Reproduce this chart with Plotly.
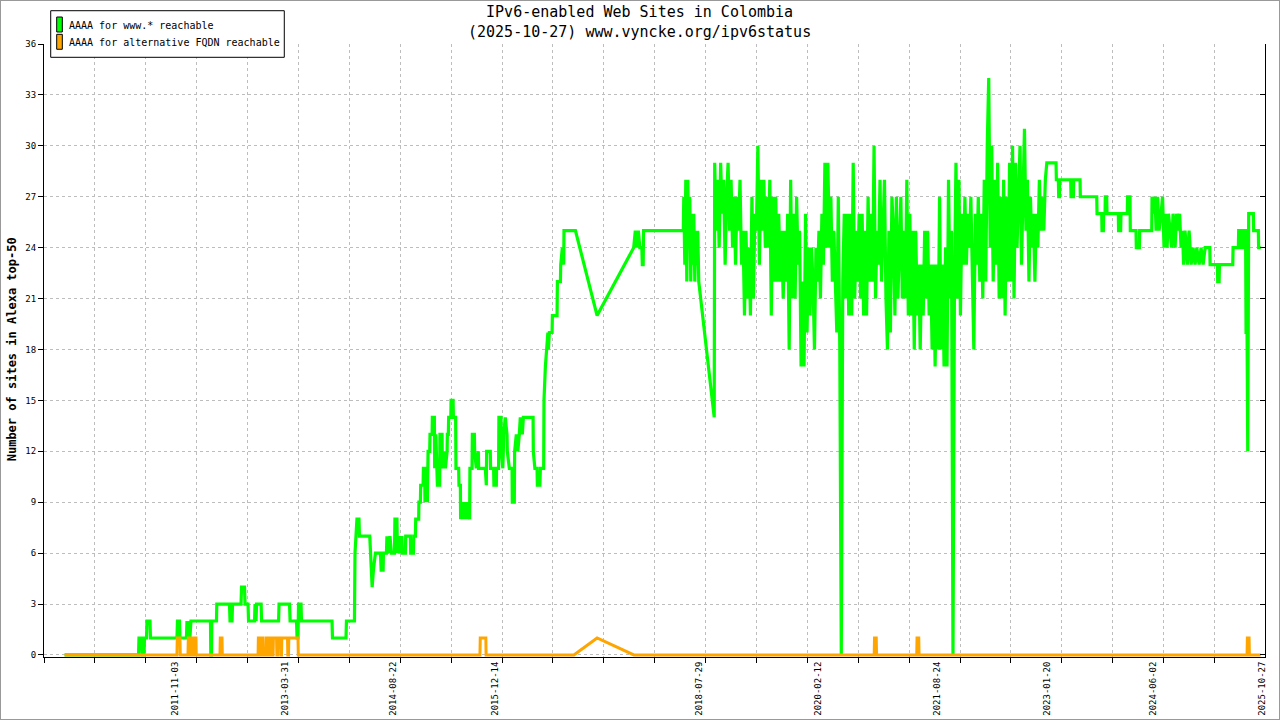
import datetime as dt
import pandas as pd
import plotly.graph_objects as go

# values; x as decimal years
green_early = [
    (2010.412, 0), (2011.364, 0), (2011.370, 1), (2011.403, 1), (2011.409, 0), (2011.435, 0),
    (2011.441, 1), (2011.467, 1), (2011.473, 2), (2011.512, 2), (2011.518, 1), (2011.859, 1),
    (2011.866, 2), (2011.891, 2), (2011.898, 1), (2011.981, 1), (2011.988, 2), (2012.001, 1),
    (2012.013, 2), (2012.026, 1), (2012.039, 2), (2012.290, 2), (2012.294, 0), (2012.303, 0),
    (2012.307, 2), (2012.367, 2), (2012.371, 3), (2012.534, 3), (2012.541, 2), (2012.567, 2),
    (2012.573, 3), (2012.682, 3), (2012.689, 4), (2012.727, 4), (2012.734, 3), (2012.772, 3),
    (2012.779, 2), (2012.856, 2), (2012.862, 3), (2012.875, 2), (2012.882, 3), (2012.940, 3),
    (2012.946, 2), (2013.165, 2), (2013.171, 3), (2013.306, 3), (2013.313, 2), (2013.396, 2),
    (2013.403, 1), (2013.415, 1), (2013.422, 3), (2013.454, 3), (2013.460, 2), (2013.853, 2),
    (2013.859, 1), (2014.033, 1), (2014.039, 2), (2014.142, 2), (2014.149, 6), (2014.161, 7),
    (2014.174, 8), (2014.200, 8), (2014.206, 7), (2014.339, 7), (2014.348, 6), (2014.370, 4),
    (2014.386, 5), (2014.412, 6), (2014.477, 6), (2014.486, 5), (2014.511, 5), (2014.515, 6),
    (2014.554, 6), (2014.560, 7), (2014.579, 6), (2014.599, 7), (2014.618, 6), (2014.657, 6),
    (2014.663, 8), (2014.689, 8), (2014.695, 6), (2014.715, 7), (2014.734, 6), (2014.753, 7),
    (2014.760, 6), (2014.798, 6), (2014.802, 7), (2014.862, 7), (2014.866, 6), (2014.901, 6),
    (2014.905, 7), (2014.927, 7), (2014.931, 8), (2014.969, 8), (2014.972, 9), (2014.991, 9),
    (2014.995, 10), (2015.026, 10), (2015.030, 11), (2015.046, 11), (2015.050, 9), (2015.068, 10),
    (2015.081, 9), (2015.090, 12), (2015.111, 12), (2015.115, 13), (2015.142, 13), (2015.145, 14),
    (2015.171, 14), (2015.175, 11), (2015.190, 13), (2015.206, 11), (2015.210, 10), (2015.239, 10),
    (2015.243, 13), (2015.270, 13), (2015.274, 11), (2015.300, 12), (2015.313, 11), (2015.335, 12),
    (2015.338, 13), (2015.351, 13), (2015.355, 14), (2015.383, 14), (2015.386, 15), (2015.412, 15),
    (2015.416, 14), (2015.445, 14), (2015.449, 11), (2015.484, 11), (2015.488, 10), (2015.506, 10),
    (2015.509, 8), (2015.531, 9), (2015.548, 8), (2015.570, 9), (2015.583, 8), (2015.596, 9),
    (2015.625, 8), (2015.629, 11), (2015.656, 11), (2015.660, 13), (2015.686, 13), (2015.690, 12),
    (2015.711, 11), (2015.737, 12), (2015.741, 11), (2015.827, 11), (2015.831, 10), (2015.840, 10),
    (2015.844, 12), (2015.891, 12), (2015.895, 11), (2015.934, 11), (2015.938, 10), (2015.969, 10),
    (2015.972, 11), (2015.998, 11), (2016.002, 14), (2016.029, 14), (2016.033, 12), (2016.052, 11),
    (2016.059, 12), (2016.063, 13), (2016.084, 14), (2016.106, 13), (2016.110, 12), (2016.136, 11),
    (2016.171, 11), (2016.174, 9), (2016.200, 9), (2016.204, 12), (2016.226, 13), (2016.245, 12),
    (2016.264, 13), (2016.277, 14), (2016.303, 13), (2016.316, 14), (2016.406, 14), (2016.441, 14),
    (2016.444, 12), (2016.464, 11), (2016.492, 11), (2016.496, 10), (2016.528, 10), (2016.535, 11),
    (2016.577, 11), (2016.581, 15), (2016.599, 17), (2016.612, 18), (2016.631, 19), (2016.637, 18),
    (2016.650, 19), (2016.685, 19), (2016.689, 20), (2016.749, 20), (2016.753, 22), (2016.792, 22),
    (2016.796, 23), (2016.817, 24), (2016.834, 23), (2016.838, 25), (2016.985, 25), (2017.264, 20),
    (2017.735, 24), (2017.756, 25), (2017.776, 24), (2017.795, 25), (2017.814, 24), (2017.840, 24),
    (2017.846, 23), (2017.857, 23), (2017.862, 25), (2018.374, 25), (2018.380, 27), (2018.393, 23),
    (2018.406, 28), (2018.419, 22), (2018.432, 28), (2018.445, 24), (2018.457, 27), (2018.470, 22),
    (2018.483, 26), (2018.496, 23), (2018.509, 26), (2018.522, 22), (2018.535, 25), (2018.547, 23),
    (2018.560, 25), (2018.573, 22), (2018.772, 14),
]

# weekly readings through the noisy 2018-2023 stretch
weekly_start = '2018-10-12'
green_weekly = [
    29, 25, 28, 24, 29, 26, 28, 23, 27, 29,
    25, 28, 24, 27, 23, 27, 25, 28, 23, 25,
    20, 25, 21, 24, 20, 27, 21, 26, 25, 30,
    23, 28, 25, 28, 24, 27, 24, 28, 20, 27,
    22, 27, 22, 26, 22, 25, 21, 25, 22, 26,
    18, 28, 21, 26, 21, 27, 23, 25, 17, 22,
    17, 26, 19, 24, 20, 24, 22, 18, 24, 22,
    25, 21, 26, 23, 29, 24, 29, 24, 27, 22,
    25, 21, 19, 27, 18, 0, 22, 26, 21, 26,
    20, 26, 20, 29, 21, 25, 22, 26, 21, 26,
    20, 25, 20, 27, 22, 26, 22, 30, 21, 25,
    23, 28, 22, 25, 28, 21, 18, 25, 19, 27,
    25, 20, 27, 21, 25, 27, 21, 25, 21, 28,
    20, 26, 20, 25, 18, 25, 20, 23, 18, 23,
    20, 25, 21, 25, 20, 23, 18, 23, 17, 23,
    18, 27, 18, 23, 17, 24, 17, 28, 21, 25,
    0, 22, 29, 21, 28, 20, 26, 23, 27, 23,
    26, 24, 27, 22, 18, 26, 23, 27, 22, 26,
    21, 28, 22, 30, 34, 24, 30, 22, 28, 23,
    29, 21, 27, 21, 28, 20, 27, 22, 29, 22,
    30, 21, 29, 24, 27, 30, 23, 28, 31, 25,
    28, 22, 27, 24, 26, 22, 26, 24, 28, 25,
    27, 25, 28, 29,
]

green_late = [
    (2023.171, 29), (2023.175, 28), (2023.201, 28), (2023.205, 27), (2023.214, 27), (2023.218, 28),
    (2023.360, 28), (2023.364, 27), (2023.394, 27), (2023.398, 28), (2023.480, 28), (2023.484, 27),
    (2023.695, 27), (2023.699, 26), (2023.759, 26), (2023.763, 25), (2023.780, 25), (2023.784, 26),
    (2023.802, 26), (2023.805, 27), (2023.823, 27), (2023.827, 26), (2023.973, 26), (2023.976, 25),
    (2024.003, 25), (2024.007, 26), (2024.088, 26), (2024.092, 27), (2024.123, 27), (2024.127, 25),
    (2024.200, 25), (2024.204, 24), (2024.243, 24), (2024.247, 25), (2024.402, 25), (2024.406, 27),
    (2024.425, 26), (2024.445, 27), (2024.458, 25), (2024.477, 27), (2024.496, 25), (2024.522, 26),
    (2024.541, 27), (2024.560, 24), (2024.580, 26), (2024.599, 24), (2024.618, 26), (2024.657, 24),
    (2024.676, 26), (2024.702, 24), (2024.721, 26), (2024.740, 25), (2024.760, 26), (2024.779, 24),
    (2024.798, 25), (2024.811, 23), (2024.830, 25), (2024.860, 23), (2024.882, 25), (2024.908, 23),
    (2024.933, 24), (2024.959, 23), (2024.981, 24), (2025.011, 23), (2025.036, 24), (2025.062, 23),
    (2025.088, 24), (2025.148, 24), (2025.152, 23), (2025.246, 23), (2025.250, 22), (2025.268, 22),
    (2025.272, 23), (2025.444, 23), (2025.448, 24), (2025.516, 24), (2025.520, 25), (2025.551, 25),
    (2025.555, 24), (2025.570, 24), (2025.574, 25), (2025.609, 25), (2025.615, 19), (2025.628, 19),
    (2025.637, 12), (2025.649, 26), (2025.709, 26), (2025.713, 25), (2025.773, 25), (2025.777, 24),
    (2025.804, 24),
]

orange = [
    (2010.412, 0), (2011.859, 0), (2011.863, 1), (2011.898, 1), (2011.902, 0), (2012.001, 0),
    (2012.005, 1), (2012.026, 1), (2012.030, 0), (2012.039, 0), (2012.043, 1), (2012.059, 1),
    (2012.062, 0), (2012.071, 0), (2012.075, 1), (2012.104, 1), (2012.107, 0), (2012.412, 0),
    (2012.416, 1), (2012.438, 1), (2012.442, 0), (2012.901, 0), (2012.905, 1), (2012.920, 1),
    (2012.924, 0), (2012.933, 0), (2012.937, 1), (2012.965, 1), (2012.969, 0), (2013.004, 0),
    (2013.008, 1), (2013.036, 1), (2013.040, 0), (2013.049, 0), (2013.053, 1), (2013.081, 1),
    (2013.085, 0), (2013.094, 0), (2013.098, 1), (2013.139, 1), (2013.143, 0), (2013.152, 0),
    (2013.156, 1), (2013.190, 1), (2013.194, 0), (2013.203, 0), (2013.207, 1), (2013.280, 1),
    (2013.284, 0), (2013.293, 0), (2013.297, 1), (2013.415, 1), (2013.419, 0), (2015.758, 0),
    (2015.762, 1), (2015.834, 1), (2015.837, 0), (2016.965, 0), (2017.264, 1), (2017.737, 0),
    (2020.830, 0), (2020.834, 1), (2020.856, 1), (2020.860, 0), (2021.377, 0), (2021.381, 1),
    (2021.403, 1), (2021.407, 0), (2025.628, 0), (2025.632, 1), (2025.654, 1), (2025.658, 0),
    (2025.804, 0),
]

x_labels = ['2011-11-03', '2013-03-31', '2014-08-22', '2015-12-14', '2018-07-29',
            '2020-02-12', '2021-08-24', '2023-01-20', '2024-06-02', '2025-10-27']

series_names = ['AAAA for www.* reachable', 'AAAA for alternative FQDN reachable']


def to_date(y):
    year = int(y)
    start = dt.datetime(year, 1, 1)
    ndays = (dt.datetime(year + 1, 1, 1) - start).days
    return start + dt.timedelta(days=(y - year) * ndays)


green_x = [to_date(y) for y, v in green_early]
green_x += list(pd.date_range(weekly_start, periods=len(green_weekly), freq='7D'))
green_x += [to_date(y) for y, v in green_late]
green_y = [v for y, v in green_early] + green_weekly + [v for y, v in green_late]

orange_x = [to_date(y) for y, v in orange]
orange_y = [v for y, v in orange]

GREEN = '#00ff00'
ORANGE = '#ffa500'
MONO = 'DejaVu Sans Mono'

fig = go.Figure()
fig.add_trace(go.Scatter(x=green_x, y=green_y, mode='lines', name=series_names[0],
                         line=dict(color=GREEN, width=3.2), showlegend=False))
fig.add_trace(go.Scatter(x=orange_x, y=orange_y, mode='lines', name=series_names[1],
                         line=dict(color=ORANGE, width=3), showlegend=False))
# empty trace so the right-hand mirror axis gets drawn
fig.add_trace(go.Scatter(x=[None], y=[None], yaxis='y2', showlegend=False, hoverinfo='skip'))

x_start = to_date(2010.147)
x_end = to_date(2025.859)

# legend drawn by hand: box, tall swatches, text (paper coords)
shapes = [
    dict(type='rect', xref='paper', yref='paper', x0=0.0055, x1=0.1968, y0=0.9783, y1=1.0543,
         line=dict(color='black', width=1), fillcolor='white', layer='above'),
    dict(type='rect', xref='paper', yref='paper', x0=0.0104, x1=0.0150, y0=1.0196, y1=1.0440,
         line=dict(color='black', width=1), fillcolor=GREEN, layer='above'),
    dict(type='rect', xref='paper', yref='paper', x0=0.0104, x1=0.0150, y0=0.9914, y1=1.0158,
         line=dict(color='black', width=1), fillcolor=ORANGE, layer='above'),
    # grey frame round the picture
    dict(type='rect', xref='paper', yref='paper',
         x0=-44 / 1221, x1=1 + 15 / 1221, y0=-63 / 613, y1=1 + 44 / 613,
         line=dict(color='#999999', width=2), layer='above'),
]
annotations = [
    dict(text=series_names[0], xref='paper', yref='paper', x=0.0192, y=1.0294,
         xanchor='left', yanchor='middle', showarrow=False, font=dict(family=MONO, size=10)),
    dict(text=series_names[1], xref='paper', yref='paper', x=0.0192, y=1.0021,
         xanchor='left', yanchor='middle', showarrow=False, font=dict(family=MONO, size=10)),
    dict(text='IPv6-enabled Web Sites in Colombia<br>(2025-10-27) www.vyncke.org/ipv6status',
         xref='paper', yref='paper', x=0.4881, y=1.0351, xanchor='center', yanchor='middle',
         showarrow=False, font=dict(family=MONO, size=15)),
    dict(text='<b>Number of sites in Alexa top-50</b>', xref='paper', yref='paper',
         x=-0.0262, y=0.502, xanchor='center', yanchor='middle', textangle=-90,
         showarrow=False, font=dict(family=MONO, size=12)),
]

fig.update_layout(
    width=1280, height=720,
    margin=dict(l=44, r=15, t=44, b=63),
    paper_bgcolor='white', plot_bgcolor='white',
    font=dict(family=MONO, color='black'),
    showlegend=False,
    xaxis=dict(
        type='date', range=[x_start, x_end], automargin=False,
        tickmode='array', tickvals=x_labels, ticktext=x_labels,
        tickangle=-90, ticks='', showgrid=False,
        tickfont=dict(family=MONO, size=9),
        showline=True, linecolor='black', linewidth=1, zeroline=False,
        minor=dict(tickmode='linear', tick0=x_start, dtick=239.2 * 86400000,
                   ticks='outside', ticklen=5, tickcolor='black',
                   showgrid=True, gridcolor='#bdbdbd', griddash='dot', gridwidth=1),
    ),
    yaxis=dict(
        range=[-0.12, 36], tickmode='linear', tick0=0, dtick=3, automargin=False,
        ticks='outside', ticklen=5, tickcolor='black',
        tickfont=dict(family=MONO, size=9),
        showgrid=True, gridcolor='#bdbdbd', griddash='dot', gridwidth=1,
        showline=True, linecolor='black', linewidth=1, zeroline=False,
    ),
    yaxis2=dict(
        overlaying='y', side='right', range=[-0.12, 36], tickmode='linear', tick0=0, dtick=3,
        ticks='inside', ticklen=5, tickcolor='black', showticklabels=False, automargin=False,
        showgrid=False, showline=True, linecolor='black', linewidth=1, zeroline=False,
    ),
    shapes=shapes,
    annotations=annotations,
)

# no default page margin, so the figure sits at the top-left corner like the original
fig.write_html('out.html', config={'displayModeBar': False},
               post_script="document.body.style.margin='0px';")
